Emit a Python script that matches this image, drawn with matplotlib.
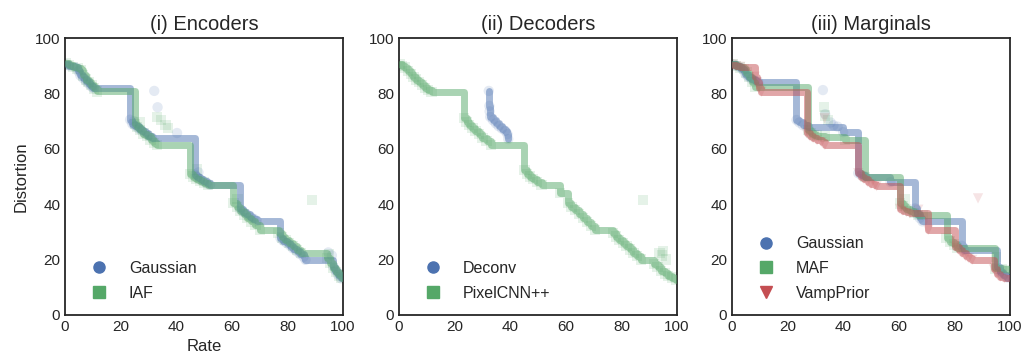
import matplotlib
matplotlib.use("Agg")
import matplotlib.pyplot as plt
from matplotlib.lines import Line2D
import numpy as np
import seaborn as sns

sns.set_style("white")
plt.rcParams['font.family'] = ['Liberation Sans', 'DejaVu Sans']

# colours (seaborn deep)
BLUE = '#4C72B0'
GREEN = '#55A868'
RED = '#C44E52'

# (i) Encoders -- Gaussian encoder: rate / distortion
enc_gauss_rate = [0.3, 1.5, 3.5, 4.8, 5.5, 6.5, 7.5, 8.5, 9.5, 10.2,
                  23.4, 24.2, 25.3, 26.5, 27.6, 28.8, 30.0, 31.3,
                  46.9, 47.5, 48.5, 49.8, 51.0, 52.2,
                  63.0, 64.0, 65.2, 66.5, 67.8, 69.0,
                  77.5, 78.5, 79.7, 81.0, 82.0, 83.3, 84.5, 85.8, 86.5,
                  96.5, 97.3, 98.2, 99.3,
                  32.1, 33.3, 40.3, 94.7, 96.0, 24.8, 48.0]
enc_gauss_dist = [90.5, 90.0, 89.5, 88.0, 86.5, 85.5, 84.5, 83.5, 82.5, 81.9,
                  70.5, 69.0, 68.2, 67.3, 66.5, 65.6, 64.8, 63.9,
                  50.6, 49.8, 49.0, 48.3, 47.5, 47.0,
                  38.3, 37.3, 36.5, 35.5, 34.8, 34.0,
                  27.7, 26.8, 26.0, 25.0, 24.0, 23.0, 22.0, 21.0, 19.9,
                  17.5, 16.0, 14.5, 13.2,
                  80.9, 75.0, 65.7, 22.6, 21.5, 70.0, 51.5]

# (i) Encoders -- IAF encoder
enc_iaf_rate = [0.2, 1.5, 3.0, 4.5, 5.8, 6.5, 7.5, 8.5, 9.5, 10.5, 11.5,
                25.2, 26.0, 27.0, 28.2, 29.5, 30.8, 32.0, 33.0,
                45.0, 46.0, 47.3, 48.6, 50.0, 51.5,
                60.6, 61.8, 63.0, 64.3, 65.6, 67.0, 68.5, 70.2,
                76.8, 78.0, 79.3, 80.6, 82.0, 83.5, 85.0,
                94.2, 95.2, 96.3, 97.5, 98.6, 99.5,
                33.1, 34.5, 36.1, 37.0, 88.8, 95.0, 62.0, 47.5, 27.0]
enc_iaf_dist = [90.8, 90.2, 89.5, 89.0, 88.5, 86.5, 85.0, 84.0, 83.0, 81.8, 80.7,
                69.0, 67.8, 66.7, 65.5, 64.5, 63.3, 62.2, 61.4,
                51.0, 50.0, 49.2, 48.5, 47.8, 47.0,
                40.4, 39.0, 37.5, 36.3, 35.0, 33.8, 32.5, 30.7,
                29.5, 28.0, 27.0, 26.0, 25.0, 23.5, 22.3,
                20.5, 18.8, 17.0, 15.5, 14.3, 13.5,
                71.6, 70.5, 68.6, 67.5, 41.6, 22.0, 42.0, 52.5, 69.5]

# (ii) Decoders -- Deconv decoder
dec_deconv_rate = [32.3, 32.5, 32.6, 32.8, 33.8, 34.8, 35.8, 37.0, 38.2, 39.0, 39.3]
dec_deconv_dist = [80.9, 75.5, 73.5, 71.5, 70.3, 69.2, 68.2, 67.3, 66.5, 65.3, 63.5]

# (ii) Decoders -- PixelCNN++ decoder
dec_pcnn_rate = [0.2, 1.2, 2.2, 3.2, 4.2, 5.2, 6.2, 7.2, 8.3, 9.4, 10.5, 11.7,
                 23.3, 24.3, 25.3, 26.4, 27.5, 28.7, 30.0, 31.5, 33.2,
                 45.1, 46.0, 47.0, 48.2, 49.6, 51.3,
                 60.8, 62.0, 63.3, 64.7, 66.2, 67.6, 69.0, 70.4,
                 76.9, 78.0, 79.2, 80.5, 81.8, 83.0, 84.3, 85.6, 87.0,
                 91.8, 93.0, 94.3, 95.6, 96.8, 98.2, 99.7,
                 87.7, 93.7, 94.5, 96.0, 95.0, 58.0]
dec_pcnn_dist = [90.6, 90.0, 89.3, 88.2, 87.0, 86.0, 85.0, 84.0, 83.0, 82.0, 81.2, 80.6,
                 71.0, 69.8, 68.7, 67.6, 66.5, 65.3, 64.0, 62.7, 61.4,
                 52.3, 51.0, 50.0, 49.0, 48.0, 47.0,
                 40.4, 39.0, 37.8, 36.5, 35.0, 33.6, 32.2, 30.7,
                 29.5, 28.3, 27.2, 26.0, 25.0, 23.7, 22.3, 21.2, 20.0,
                 18.5, 17.3, 16.0, 15.0, 14.2, 13.5, 12.8,
                 41.6, 22.3, 21.5, 20.0, 23.0, 44.0]

# (iii) Marginals -- Gaussian marginal
marg_gauss_rate = [0.3, 1.5, 3.0, 4.0, 4.8, 5.8, 7.0, 8.2, 9.4,
                   23.2, 24.2, 25.5, 27.4,
                   40.0,
                   45.4, 46.5, 47.8,
                   65.8, 66.5, 67.5, 68.5,
                   82.6, 83.5,
                   95.2, 96.3, 97.5, 99.0,
                   32.7, 33.5, 35.5, 36.5, 38.0, 57.0]
marg_gauss_dist = [90.5, 90.0, 89.3, 88.5, 87.0, 86.0, 85.2, 84.6, 84.2,
                   70.4, 69.5, 68.5, 67.8,
                   66.0,
                   51.2, 50.5, 50.0,
                   38.5, 36.5, 35.0, 33.8,
                   25.0, 23.5,
                   17.5, 15.5, 14.3, 13.5,
                   81.2, 72.5, 69.5, 68.5, 68.0, 48.0]

# (iii) Marginals -- MAF marginal
marg_maf_rate = [0.2, 1.5, 3.0, 4.2, 5.2, 6.2, 7.2, 8.2,
                 27.4, 28.4, 29.5, 30.5, 33.4,
                 40.6,
                 47.8,
                 60.4, 61.5, 62.7, 64.0, 65.5, 67.0, 68.5,
                 77.2, 78.5, 79.8, 81.0,
                 94.6, 97.0, 99.5,
                 33.0, 33.5, 34.5, 62.0, 95.0]
marg_maf_dist = [90.6, 90.0, 89.4, 88.8, 87.5, 86.0, 84.0, 82.4,
                 66.8, 65.8, 65.0, 64.8, 64.4,
                 63.2,
                 49.9,
                 40.3, 39.3, 38.3, 37.5, 36.8, 36.2, 36.0,
                 27.7, 26.5, 25.5, 24.1,
                 16.8, 16.5, 16.3,
                 75.1, 72.0, 70.5, 42.0, 21.0]

# (iii) Marginals -- VampPrior marginal
marg_vamp_rate = [0.2, 1.5, 3.0, 8.2, 9.0, 9.8, 10.6,
                  26.8, 28.0, 29.2, 30.6, 32.2, 33.4,
                  45.4, 46.5, 47.5, 48.8, 50.0, 51.4,
                  60.4, 61.5, 62.8, 64.0,
                  70.6,
                  80.2, 81.5, 82.8, 84.0, 85.2, 86.4,
                  94.2, 95.2, 96.5, 98.0, 99.8,
                  88.5, 33.3, 52.0, 67.0]
marg_vamp_dist = [90.4, 89.8, 89.6, 86.0, 84.0, 82.0, 80.6,
                  65.6, 64.5, 63.8, 63.1, 62.4, 61.4,
                  51.2, 50.0, 49.0, 48.0, 47.3, 46.9,
                  38.3, 37.7, 37.2, 36.7,
                  30.7,
                  24.7, 23.5, 22.3, 21.2, 20.5, 19.9,
                  16.5, 14.8, 13.8, 13.3, 13.2,
                  42.1, 71.0, 46.5, 38.0]


def frontier(rate, dist):
    # pareto frontier: running minimum of distortion over sorted rate
    order = np.argsort(rate)
    r = np.asarray(rate)[order]
    d = np.asarray(dist)[order]
    keep_r, keep_d = [], []
    best = np.inf
    for ri, di in zip(r, d):
        if di < best:
            best = di
            keep_r.append(ri)
            keep_d.append(di)
    return keep_r, keep_d


def draw(ax, rate, dist, color, marker):
    ax.scatter(rate, dist, s=55, color=color, marker=marker, alpha=0.15,
               edgecolors='none', zorder=2)
    fr, fd = frontier(rate, dist)
    ax.step(fr, fd, where='post', color=color, alpha=0.5, lw=5, zorder=3)


fig = plt.figure(figsize=(10.26, 3.58), dpi=100)
W, H = 1026.0, 358.0
lefts = [65, 399, 732]
axes = [fig.add_axes([l / W, 43 / H, 278 / W, 277 / H]) for l in lefts]

panels = [
    ('(i) Encoders', [(enc_gauss_rate, enc_gauss_dist, BLUE, 'o', 'Gaussian'),
                      (enc_iaf_rate, enc_iaf_dist, GREEN, 's', 'IAF')]),
    ('(ii) Decoders', [(dec_deconv_rate, dec_deconv_dist, BLUE, 'o', 'Deconv'),
                       (dec_pcnn_rate, dec_pcnn_dist, GREEN, 's', 'PixelCNN++')]),
    ('(iii) Marginals', [(marg_gauss_rate, marg_gauss_dist, BLUE, 'o', 'Gaussian'),
                         (marg_maf_rate, marg_maf_dist, GREEN, 's', 'MAF'),
                         (marg_vamp_rate, marg_vamp_dist, RED, 'v', 'VampPrior')]),
]

for ax, (title, series) in zip(axes, panels):
    handles = []
    for rate, dist, color, marker, label in series:
        draw(ax, rate, dist, color, marker)
        handles.append(Line2D([], [], ls='', marker=marker, color=color,
                              markersize=8, label=label))
    ax.set_xlim(0, 100)
    ax.set_ylim(0, 100)
    ax.set_xticks([0, 20, 40, 60, 80, 100])
    ax.set_yticks([0, 20, 40, 60, 80, 100])
    ax.tick_params(labelsize=11, length=0, colors='#262626')
    for sp in ax.spines.values():
        sp.set_color('#262626')
        sp.set_linewidth(1.3)
    ax.set_title(title, fontsize=14.5, color='#262626', pad=6)
    ax.legend(handles=handles, loc='lower left', frameon=False, fontsize=11.5,
              borderpad=0.2, borderaxespad=0.7, handlelength=2.4,
              handletextpad=0.7, labelspacing=0.6)

axes[0].set_xlabel('Rate', fontsize=12, color='#262626')
axes[0].set_ylabel('Distortion', fontsize=12, color='#262626')

fig.savefig('out.png', dpi=100)
